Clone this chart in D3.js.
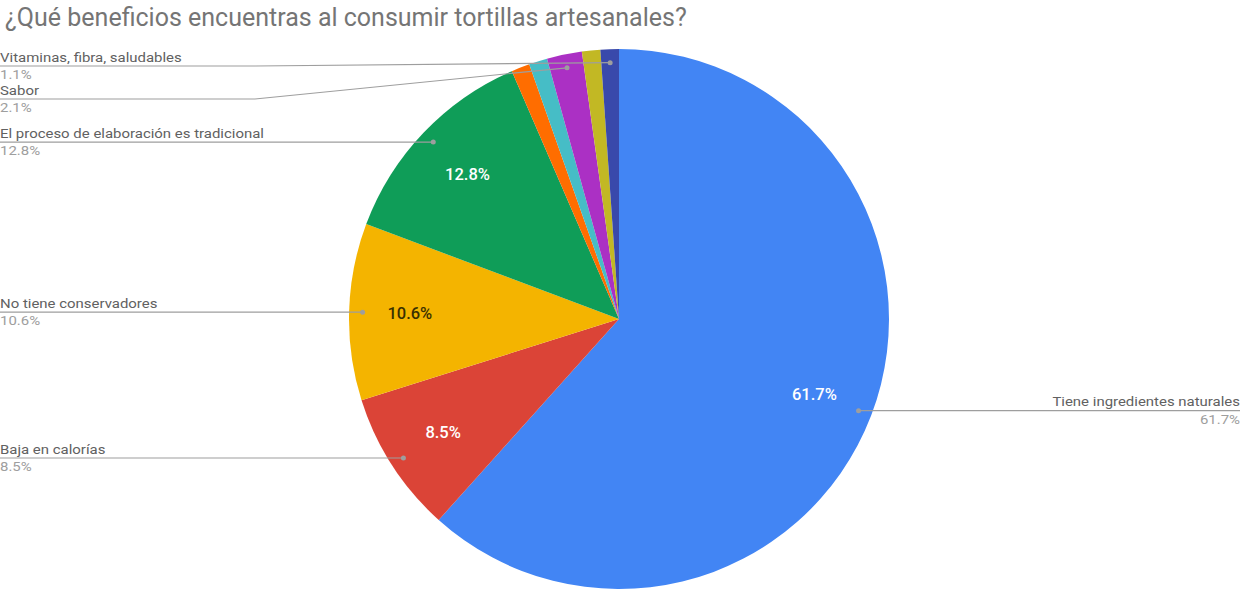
<!DOCTYPE html>
<html>
<head>
<meta charset="utf-8">
<script src="https://cdn.jsdelivr.net/npm/d3@7"></script>
<style>
  body { margin: 0; background: #fff; }
  svg { display: block; font-family: Roboto, sans-serif; }
</style>
</head>
<body>
<div id="chart"></div>
<script>
// data (clockwise from 12 o'clock)
var names = ["Tiene ingredientes naturales", "Baja en calorías", "No tiene conservadores",
             "El proceso de elaboración es tradicional", null, null, "Sabor", null,
             "Vitaminas, fibra, saludables"];
var values = [61.7, 8.5, 10.6, 12.8, 1.1, 1.1, 2.1, 1.1, 1.1];
var colors = ["#4285f4", "#db4437", "#f4b400", "#0f9d58", "#ff6d00", "#46bdc6", "#ab30c4", "#c2b824", "#3949ab"];
var title = "¿Qué beneficios encuentras al consumir tortillas artesanales?";

var W = 1244, H = 590;
var cx = 619, cy = 319, r = 270;

var svg = d3.select("#chart").append("svg").attr("width", W).attr("height", H);

svg.append("text")
  .attr("x", 5).attr("y", 26)
  .attr("font-size", 25)
  .attr("fill", "#757575")
  .text(title);

var table = values.map(function(v, i) { return {name: names[i], value: v, color: colors[i]}; });

var pie = d3.pie().sort(null).value(function(d) { return d.value; });
var arcs = pie(table);
var arc = d3.arc().innerRadius(0).outerRadius(r);

var g = svg.append("g").attr("transform", "translate(" + cx + "," + cy + ")");

g.selectAll(".slice").data(arcs).enter()
  .append("path")
  .attr("class", "slice")
  .attr("d", arc)
  .attr("fill", function(d) { return d.data.color; });

// inner % labels for the big slices
var inner = d3.arc().innerRadius(r * 0.775).outerRadius(r * 0.775);
g.selectAll(".pct").data(arcs.filter(function(d) { return d.data.value > 5; })).enter()
  .append("text")
  .attr("class", "pct")
  .attr("transform", function(d) { return "translate(" + inner.centroid(d) + ")"; })
  .attr("text-anchor", "middle")
  .attr("dy", "0.35em")
  .attr("font-size", 16.5)
  .attr("font-weight", 500)
  .attr("fill", function(d) { return d.data.color == "#f4b400" ? "#3a3000" : "#fff"; })
  .text(function(d) { return d.data.value.toFixed(1) + "%"; });

// callout labels
var dotArc = d3.arc().innerRadius(r * 0.95).outerRadius(r * 0.95);
var labelled = arcs.filter(function(d) { return d.data.name; }).map(function(d) {
  var p = dotArc.centroid(d);
  return {d: d, dx: p[0] + cx, dy: p[1] + cy, left: p[0] < 0};
});

var leftOnes = labelled.filter(function(l) { return l.left; })
  .sort(function(a, b) { return a.dy - b.dy; });
var prev = -Infinity;
leftOnes.forEach(function(l) {
  l.y = Math.max(l.dy, 66, prev + 33);
  prev = l.y;
});
labelled.filter(function(l) { return !l.left; }).forEach(function(l) { l.y = l.dy; });

// labels in the source are a bit wide, so stretch 13px text horizontally
var stretch = 1.15;
var lab = svg.append("g");
labelled.forEach(function(l) {
  var pts = l.left ? [[0, l.y], [255, l.y], [l.dx, l.dy]] : [[l.dx, l.dy], [W - 4, l.y]];
  lab.append("path")
    .attr("d", d3.line()(pts))
    .attr("fill", "none")
    .attr("stroke", "#9e9e9e")
    .attr("stroke-width", 1.2);
  lab.append("circle")
    .attr("cx", l.dx).attr("cy", l.dy).attr("r", 2.5)
    .attr("fill", "#9e9e9e");
  var tx = l.left ? 0 : W - 4;
  var anchor = l.left ? "start" : "end";
  lab.append("text")
    .attr("transform", "translate(" + tx + "," + (l.y - 4.5) + ") scale(" + stretch + ",1)")
    .attr("text-anchor", anchor)
    .attr("font-size", 13)
    .attr("fill", "#616161")
    .text(l.d.data.name);
  lab.append("text")
    .attr("transform", "translate(" + tx + "," + (l.y + 13) + ") scale(" + stretch + ",1)")
    .attr("text-anchor", anchor)
    .attr("font-size", 13)
    .attr("fill", "#9e9e9e")
    .text(l.d.data.value.toFixed(1) + "%");
});
</script>
</body>
</html>
